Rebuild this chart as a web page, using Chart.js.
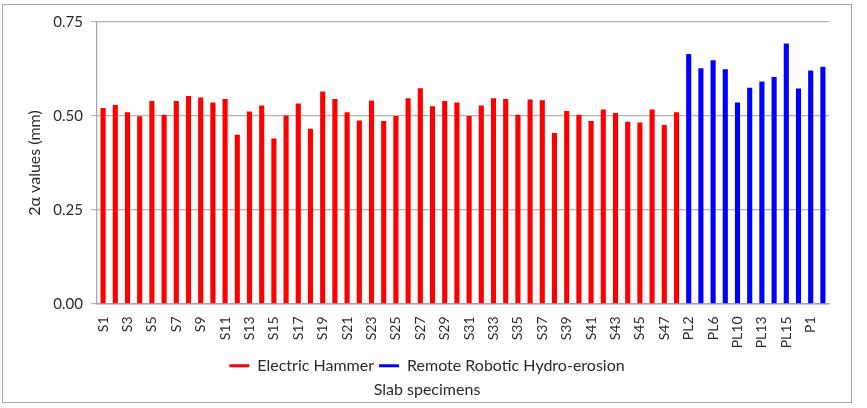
<!DOCTYPE html>
<html>
<head>
<meta charset="utf-8">
<script src="https://cdn.jsdelivr.net/npm/chart.js@4"></script>
<style>
    body { margin: 0; background: #fff; }
    #frame {
        position: absolute; left: 2px; top: 4px;
        width: 850px; height: 399px;
        border: 1px solid #a6a6a6; box-sizing: border-box;
    }
</style>
</head>
<body>
<div id="frame"><canvas id="chart" width="848" height="397"></canvas></div>
<script>
// Slab specimens
const hammerLabels = [];
for (let i = 1; i <= 48; i++) hammerLabels.push('S' + i);
const robotLabels = ['PL2', 'PL4', 'PL6', 'PL8', 'PL10', 'PL12', 'PL13', 'PL14', 'PL15', 'PL16', 'P1', 'P2'];

// 2α values (mm)
const hammerValues = [
    0.521, 0.529, 0.510, 0.499, 0.540, 0.503, 0.540, 0.553, 0.549, 0.536,
    0.545, 0.450, 0.512, 0.528, 0.440, 0.501, 0.533, 0.466, 0.565, 0.545,
    0.510, 0.488, 0.541, 0.487, 0.500, 0.547, 0.574, 0.526, 0.540, 0.536,
    0.500, 0.528, 0.547, 0.545, 0.503, 0.544, 0.542, 0.455, 0.513, 0.503,
    0.487, 0.517, 0.508, 0.485, 0.483, 0.517, 0.476, 0.510
];
const robotValues = [0.665, 0.627, 0.648, 0.624, 0.536, 0.575, 0.592, 0.604, 0.693, 0.573, 0.621, 0.631];

const yTicks = [0, 0.25, 0.5, 0.75];

const labels = hammerLabels.concat(robotLabels);
const hammerData = hammerValues.concat(robotValues.map(() => null));
const robotData = hammerValues.map(() => null).concat(robotValues);

const fontFamily = 'Lato, "Open Sans", sans-serif';
const textColor = '#2b2b2b';
const axisColor = '#a6a6a6';

new Chart(document.getElementById('chart').getContext('2d'), {
    type: 'bar',
    data: {
        labels: labels,
        datasets: [
            {
                label: 'Electric Hammer',
                data: hammerData,
                backgroundColor: '#ff0000',
                grouped: false,
                barPercentage: 0.42,
                categoryPercentage: 1
            },
            {
                label: 'Remote Robotic Hydro-erosion',
                data: robotData,
                backgroundColor: '#0000ff',
                grouped: false,
                barPercentage: 0.42,
                categoryPercentage: 1
            }
        ]
    },
    options: {
        responsive: false,
        animation: false,
        layout: { padding: { top: 17, right: 22, left: 22, bottom: 0 } },
        plugins: {
            tooltip: { enabled: false },
            legend: {
                position: 'bottom',
                labels: {
                    color: textColor,
                    font: { family: fontFamily, size: 16 },
                    boxWidth: 20,
                    boxHeight: 3,
                    padding: 5
                }
            },
            title: {
                display: true,
                position: 'bottom',
                text: 'Slab specimens',
                color: textColor,
                font: { family: fontFamily, size: 16, weight: 'normal' },
                padding: { top: -4, bottom: 3 }
            }
        },
        scales: {
            x: {
                grid: { display: false },
                border: { display: true, color: axisColor, width: 1.5 },
                ticks: {
                    color: textColor,
                    font: { family: fontFamily, size: 14 },
                    autoSkip: false,
                    minRotation: 90,
                    maxRotation: 90,
                    padding: 4.5,
                    callback: function(value, index) {
                        return index % 2 === 0 ? this.getLabelForValue(value) : '';
                    }
                }
            },
            y: {
                min: 0,
                max: 0.75,
                afterBuildTicks: axis => { axis.ticks = yTicks.map(v => ({ value: v })); },
                afterFit: axis => { axis.width = 72; },
                grid: { color: '#b4b4b4', tickLength: 6, lineWidth: 1.2 },
                border: { display: true, color: axisColor, width: 1.2 },
                ticks: {
                    color: textColor,
                    font: { family: fontFamily, size: 15 },
                    padding: 8,
                    callback: v => v.toFixed(2)
                },
                title: {
                    display: true,
                    text: '2α values (mm)',
                    color: textColor,
                    font: { family: fontFamily, size: 16 },
                    padding: { top: 0, bottom: 4 }
                }
            }
        }
    }
});
</script>
</body>
</html>
